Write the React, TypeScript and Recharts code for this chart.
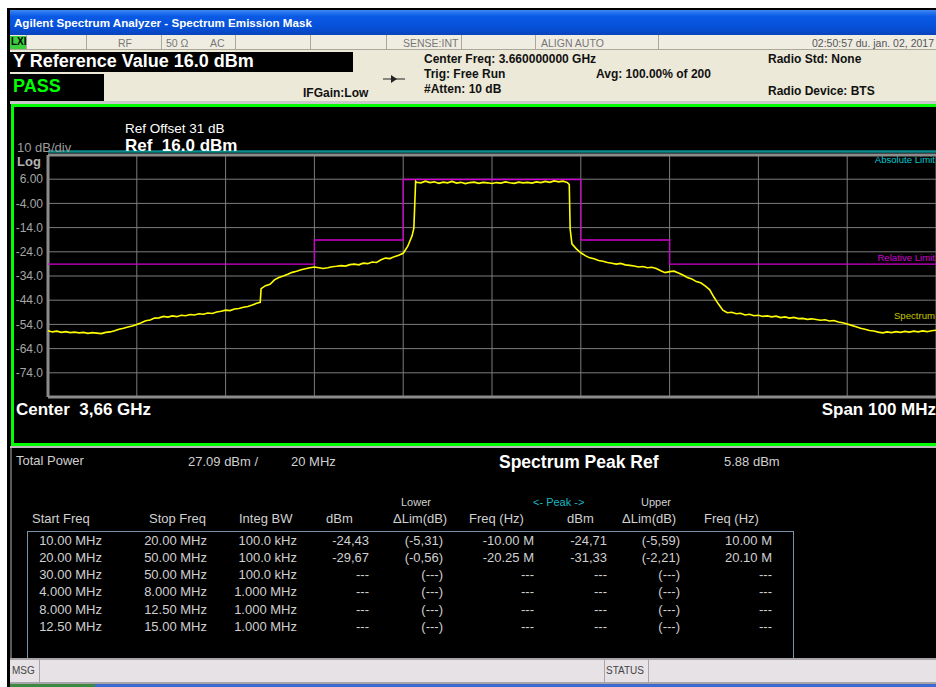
import React from "react";
import { LineChart, Line, XAxis, YAxis, CartesianGrid, ReferenceLine } from "recharts";

// offsets from 3.66 GHz centre, MHz
const FREQ_TICKS = [-50, -40, -30, -20, -10, 0, 10, 20, 30, 40, 50];
const DBM_TICKS = [16, 6, -4, -14, -24, -34, -44, -54, -64, -74, -84];

// [offset MHz, dBm]
const SPECTRUM: [number, number][] = [
  [-50, -56.6], [-49.5, -57.1], [-49, -56.8], [-48.5, -57.3], [-48, -57.0], [-47.5, -57.4],
  [-47, -57.2], [-46.5, -57.5], [-46, -57.3], [-45.5, -57.7], [-45, -57.4], [-44.5, -57.6],
  [-44, -57.8], [-43.5, -57.3], [-43, -57.1], [-42.5, -56.6], [-42, -56.0], [-41.5, -55.6],
  [-41, -55.1], [-40.5, -54.7], [-40, -54.0], [-39.5, -53.3], [-39, -52.5], [-38.5, -52.2],
  [-38, -51.4], [-37.5, -51.3], [-37, -50.7], [-36.5, -51.0], [-36, -50.5], [-35.5, -50.8],
  [-35, -50.2], [-34.5, -50.4], [-34, -49.9], [-33.5, -50.1], [-33, -49.6], [-32.5, -49.8],
  [-32, -49.3], [-31.5, -49.5], [-31, -48.9], [-30.5, -48.6], [-30, -48.1], [-29.5, -48.3],
  [-29, -47.6], [-28.5, -47.4], [-28, -46.9], [-27.5, -46.6], [-27, -46.0], [-26.5, -45.3],
  [-26.1, -44.9], [-26, -39.2], [-25.5, -38.0], [-25, -37.4], [-24.5, -35.6], [-24, -34.6],
  [-23.5, -34.0], [-23, -33.3], [-22.5, -32.5], [-22, -32.0], [-21.5, -31.4], [-21, -31.0],
  [-20.5, -30.6], [-20, -30.3], [-19.5, -30.6], [-19, -30.9], [-18.5, -30.6], [-18, -30.2],
  [-17.5, -30.0], [-17, -29.7], [-16.5, -29.9], [-16, -29.3], [-15.5, -29.1], [-15, -29.4],
  [-14.5, -28.7], [-14, -28.9], [-13.5, -28.2], [-13, -28.4], [-12.5, -27.3], [-12, -26.6],
  [-11.5, -26.8], [-11, -26.0], [-10.5, -25.4], [-10, -24.6], [-9.5, -21.8], [-9, -17.4],
  [-8.8, -14.2], [-8.6, 5.1], [-8.5, 4.7], [-8, 4.5], [-7.5, 5.2], [-7, 4.6], [-6.5, 4.9],
  [-6, 4.3], [-5.5, 4.8], [-5, 4.5], [-4.5, 5.1], [-4, 4.4], [-3.5, 4.7], [-3, 4.2],
  [-2.5, 4.6], [-2, 4.8], [-1.5, 4.3], [-1, 4.7], [-0.5, 4.5], [0, 4.2], [0.5, 4.6],
  [1, 4.4], [1.5, 4.9], [2, 4.5], [2.5, 4.3], [3, 4.8], [3.5, 4.5], [4, 4.7], [4.5, 4.4],
  [5, 4.9], [5.5, 4.6], [6, 5.1], [6.5, 4.7], [7, 5.3], [7.5, 4.9], [8, 5.2], [8.5, 4.6],
  [8.7, 3.8], [8.8, -14.5], [9, -20.7], [9.5, -22.8], [10, -24.4], [10.5, -25.6], [11, -26.5],
  [11.5, -26.9], [12, -27.6], [12.5, -27.9], [13, -28.4], [13.5, -28.7], [14, -29.1],
  [14.5, -28.8], [15, -29.4], [15.5, -29.6], [16, -29.9], [16.5, -30.3], [17, -30.1],
  [17.5, -30.6], [18, -30.4], [18.5, -30.9], [19, -31.8], [19.5, -32.6], [20, -32.2],
  [20.5, -32.0], [21, -32.8], [21.5, -33.6], [22, -34.6], [22.5, -35.2], [23, -36.3],
  [23.5, -36.8], [24, -38.1], [24.5, -39.6], [25, -42.8], [25.5, -45.6], [26, -48.1],
  [26.5, -49.2], [27, -49.0], [27.5, -49.6], [28, -49.4], [28.5, -50.1], [29, -49.8],
  [29.5, -50.4], [30, -50.2], [30.5, -50.7], [31, -50.5], [31.5, -50.9], [32, -50.6],
  [32.5, -51.2], [33, -50.9], [33.5, -51.4], [34, -51.1], [34.5, -51.6], [35, -51.5],
  [35.5, -51.9], [36, -51.7], [36.5, -52.0], [37, -52.3], [37.5, -52.1], [38, -52.6],
  [38.5, -52.4], [39, -53.0], [39.5, -53.3], [40, -53.8], [40.5, -54.4], [41, -55.0],
  [41.5, -55.6], [42, -56.0], [42.5, -56.5], [43, -56.7], [43.5, -57.2], [44, -57.5],
  [44.5, -57.1], [45, -57.4], [45.5, -57.0], [46, -57.3], [46.5, -56.9], [47, -57.2],
  [47.5, -56.8], [48, -57.1], [48.5, -56.7], [49, -57.0], [49.5, -56.6], [50, -56.4],
];

// magenta mask
const RELATIVE_LIMIT: [number, number][] = [
  [-50, -29.12], [-20, -29.12], [-20, -19.12], [-10, -19.12], [-10, 5.88],
  [10, 5.88], [10, -19.12], [20, -19.12], [20, -29.12], [50, -29.12],
];
const ABSOLUTE_LIMIT_DBM = 17.4;

const START_FREQ = ["10.00 MHz", "20.00 MHz", "30.00 MHz", "4.000 MHz", "8.000 MHz", "12.50 MHz"];
const STOP_FREQ = ["20.00 MHz", "50.00 MHz", "50.00 MHz", "8.000 MHz", "12.50 MHz", "15.00 MHz"];
const INTEG_BW = ["100.0 kHz", "100.0 kHz", "100.0 kHz", "1.000 MHz", "1.000 MHz", "1.000 MHz"];
const LOWER_DBM = ["-24,43", "-29,67", "---", "---", "---", "---"];
const LOWER_DLIM = ["(-5,31)", "(-0,56)", "(---)", "(---)", "(---)", "(---)"];
const LOWER_FREQ = ["-10.00 M", "-20.25 M", "---", "---", "---", "---"];
const PEAK_DBM = ["-24,71", "-31,33", "---", "---", "---", "---"];
const UPPER_DLIM = ["(-5,59)", "(-2,21)", "(---)", "(---)", "(---)", "(---)"];
const UPPER_FREQ = ["10.00 M", "20.10 M", "---", "---", "---", "---"];

const FONT = '"Liberation Sans", Arial, sans-serif';

function T({ x, y, size = 12, color = "#111", bold, right, children }: any) {
  const style: React.CSSProperties = {
    position: "absolute",
    top: y - size * 0.6,
    fontSize: size,
    lineHeight: `${size * 1.2}px`,
    color,
    fontWeight: bold ? 700 : 400,
    whiteSpace: "pre",
    fontFamily: FONT,
  };
  if (right) style.right = 936 - x;
  else style.left = x;
  return <div style={style}>{children}</div>;
}

function Box({ x, y, w, h, bg, style }: any) {
  return <div style={{ position: "absolute", left: x, top: y, width: w, height: h, background: bg, ...style }} />;
}

const fmtTick = (v: number) => (v === 16 || v === -84 ? "" : v.toPrecision(3));

export default function App() {
  const spectrum = SPECTRUM.map(([f, dbm]) => ({ f, dbm }));
  const relLimit = RELATIVE_LIMIT.map(([f, dbm]) => ({ f, dbm }));

  const cellDividers = [26, 86, 161, 235, 310, 386, 461, 535, 658];
  const rowY = [541, 558, 575, 592, 610, 627];
  const cols: [string[], number][] = [
    [START_FREQ, 102], [STOP_FREQ, 207], [INTEG_BW, 297], [LOWER_DBM, 369], [LOWER_DLIM, 443],
    [LOWER_FREQ, 534], [PEAK_DBM, 607], [UPPER_DLIM, 680], [UPPER_FREQ, 772],
  ];

  return (
    <div style={{ position: "absolute", left: 0, top: 0, width: 936, height: 687, background: "#fff", overflow: "hidden", fontFamily: FONT }}>
      {/* window frame */}
      <Box x={7} y={8} w={929} h={679} bg="#000" />
      <Box x={10} y={10} w={926} h={25} bg="linear-gradient(#3d86f4 0%, #0a5ae6 25%, #0650d8 70%, #0a44bc 100%)" />
      <T x={14} y={23} size={11.6} color="#fff" bold>Agilent Spectrum Analyzer - Spectrum Emission Mask</T>

      {/* header */}
      <Box x={10} y={35} w={926} h={68} bg="#ece9d8" />
      <Box x={10} y={35} w={926} h={15} bg="#efece2" style={{ borderBottom: "1px solid #aca899", boxSizing: "border-box" }} />
      {cellDividers.map((d) => (
        <Box key={d} x={d} y={35} w={1} h={15} bg="#aca899" />
      ))}
      <Box x={10} y={36} w={16} h={13} bg="#3ccf3c" />
      <T x={11} y={42} size={10} color="#000" bold>LXI</T>
      <T x={118} y={43} size={10.5} color="#777">RF</T>
      <T x={166} y={43} size={10.5} color="#777">50 Ω</T>
      <T x={210} y={43} size={10.5} color="#777">AC</T>
      <T x={403} y={43} size={10.5} color="#777">SENSE:INT</T>
      <T x={541} y={43} size={10.5} color="#777">ALIGN AUTO</T>
      <T x={934} y={43} size={10.5} color="#555" right>02:50:57 du. jan. 02, 2017</T>

      <Box x={10} y={52} w={343} h={20} bg="#000" />
      <T x={13} y={62} size={18} color="#fff" bold>Y Reference Value 16.0 dBm</T>
      <Box x={10} y={74} w={94} h={27} bg="#000" />
      <T x={13} y={87} size={18} color="#00ff00" bold>PASS</T>
      <T x={303} y={93} size={12} bold>IFGain:Low</T>
      <svg style={{ position: "absolute", left: 382, top: 74 }} width={24} height={10}>
        <line x1={1} y1={5} x2={23} y2={5} stroke="#222" strokeWidth={1} />
        <polygon points="9,1 15,5 9,9" fill="#222" />
      </svg>
      <T x={424} y={59} size={12} bold>Center Freq: 3.660000000 GHz</T>
      <T x={424} y={74} size={12} bold>Trig: Free Run</T>
      <T x={424} y={89} size={12} bold>#Atten: 10 dB</T>
      <T x={596} y={74} size={12} bold>Avg: 100.00% of 200</T>
      <T x={768} y={59} size={12} bold>Radio Std: None</T>
      <T x={768} y={91} size={12} bold>Radio Device: BTS</T>

      {/* graph window */}
      <Box x={10} y={101} w={926} h={3} bg="#c8c8c8" />
      <Box x={10} y={104} w={926} h={342} bg="#000" style={{ border: "3px solid #00ff00", borderRight: "none", boxSizing: "border-box", left: 11 }} />

      <div style={{ position: "absolute", left: 0, top: 0 }}>
        <LineChart width={936} height={420} margin={{ top: 155, right: 0, bottom: 23, left: 0 }}>
          <CartesianGrid stroke="#7c7c7c" strokeWidth={1} />
          <XAxis dataKey="f" type="number" domain={[-50, 50]} ticks={FREQ_TICKS} hide allowDuplicatedCategory={false} />
          <YAxis
            type="number"
            domain={[-84, 16]}
            ticks={DBM_TICKS}
            width={48}
            interval={0}
            tickLine={false}
            axisLine={false}
            tickSize={3}
            tickMargin={2}
            tickFormatter={fmtTick}
            tick={{ fill: "#a6a6a6", fontSize: 12, fontFamily: FONT }}
          />
          <ReferenceLine y={16} stroke="#8c8c8c" strokeWidth={3} />
          <ReferenceLine y={-84} stroke="#8c8c8c" strokeWidth={3} />
          <ReferenceLine x={-50} stroke="#8c8c8c" strokeWidth={3} />
          <ReferenceLine y={ABSOLUTE_LIMIT_DBM} stroke="#0a8c8c" strokeWidth={2.5} ifOverflow="visible" />
          <Line data={relLimit} dataKey="dbm" stroke="#d200d2" strokeWidth={1.3} dot={false} isAnimationActive={false} type="linear" />
          <Line data={spectrum} dataKey="dbm" stroke="#ffff00" strokeWidth={1.6} dot={false} isAnimationActive={false} type="linear" />
        </LineChart>
      </div>

      <T x={125} y={129} size={13.5} color="#fff">Ref Offset 31 dB</T>
      <T x={125} y={146} size={17} color="#fff" bold>Ref  16.0 dBm</T>
      <T x={17} y={148} size={13} color="#9c9c9c">10 dB/div</T>
      <T x={17} y={162} size={13} color="#b4b4b4" bold>Log</T>
      <T x={935} y={160} size={9.6} color="#00c8d0" right>Absolute Limit</T>
      <T x={935} y={258} size={9.6} color="#d400d4" right>Relative Limit</T>
      <T x={935} y={316} size={9.6} color="#c8c800" right>Spectrum</T>
      <T x={16} y={410} size={17} color="#fff" bold>Center  3,66 GHz</T>
      <T x={936} y={410} size={17} color="#fff" bold right>Span 100 MHz</T>

      {/* results panel */}
      <Box x={10} y={446} w={926} h={2} bg="#bdbdbd" />
      <Box x={10} y={448} w={926} h={210} bg="#000" style={{ borderLeft: "2px solid #5a5a5a", boxSizing: "border-box" }} />
      <T x={16} y={461} size={13} color="#d0d0d0">Total Power</T>
      <T x={188} y={462} size={13} color="#d0d0d0">27.09 dBm /</T>
      <T x={291} y={462} size={13} color="#d0d0d0">20 MHz</T>
      <T x={499} y={462} size={17.5} color="#fff" bold>Spectrum Peak Ref</T>
      <T x={724} y={462} size={13} color="#d0d0d0">5.88 dBm</T>

      <T x={401} y={503} size={11} color="#d0d0d0">Lower</T>
      <T x={533} y={503} size={11} color="#19b8c0">&lt;- Peak -&gt;</T>
      <T x={641} y={503} size={11} color="#d0d0d0">Upper</T>
      <T x={32} y={519} size={13} color="#d0d0d0">Start Freq</T>
      <T x={149} y={519} size={13} color="#d0d0d0">Stop Freq</T>
      <T x={239} y={519} size={13} color="#d0d0d0">Integ BW</T>
      <T x={326} y={519} size={13} color="#d0d0d0">dBm</T>
      <T x={393} y={519} size={13} color="#d0d0d0">ΔLim(dB)</T>
      <T x={469} y={519} size={13} color="#d0d0d0">Freq (Hz)</T>
      <T x={567} y={519} size={13} color="#d0d0d0">dBm</T>
      <T x={622} y={519} size={13} color="#d0d0d0">ΔLim(dB)</T>
      <T x={704} y={519} size={13} color="#d0d0d0">Freq (Hz)</T>
      <Box x={27} y={531} w={767} h={127} bg="transparent" style={{ border: "1px solid #7890a8", borderBottom: "none", boxSizing: "border-box" }} />
      {cols.map(([vals, rx], ci) =>
        vals.map((v, ri) => (
          <T key={`${ci}-${ri}`} x={rx} y={rowY[ri]} size={13} color="#d0d0d0" right>{v}</T>
        ))
      )}

      {/* message bar */}
      <Box x={10} y={658} w={926} h={26} bg="#e6e2e6" style={{ borderTop: "2px solid #a8a4a8", borderBottom: "2px solid #a8a4a8", boxSizing: "border-box" }} />
      <Box x={39} y={658} w={1} h={26} bg="#a8a4a8" />
      <Box x={604} y={658} w={1} h={26} bg="#a8a4a8" />
      <Box x={648} y={658} w={1} h={26} bg="#a8a4a8" />
      <T x={12} y={671} size={10} color="#444">MSG</T>
      <T x={606} y={671} size={10} color="#444">STATUS</T>
      <Box x={10} y={684} w={85} h={3} bg="#3a8a40" />
      <Box x={95} y={684} w={841} h={3} bg="#3c6ad0" />
    </div>
  );
}
